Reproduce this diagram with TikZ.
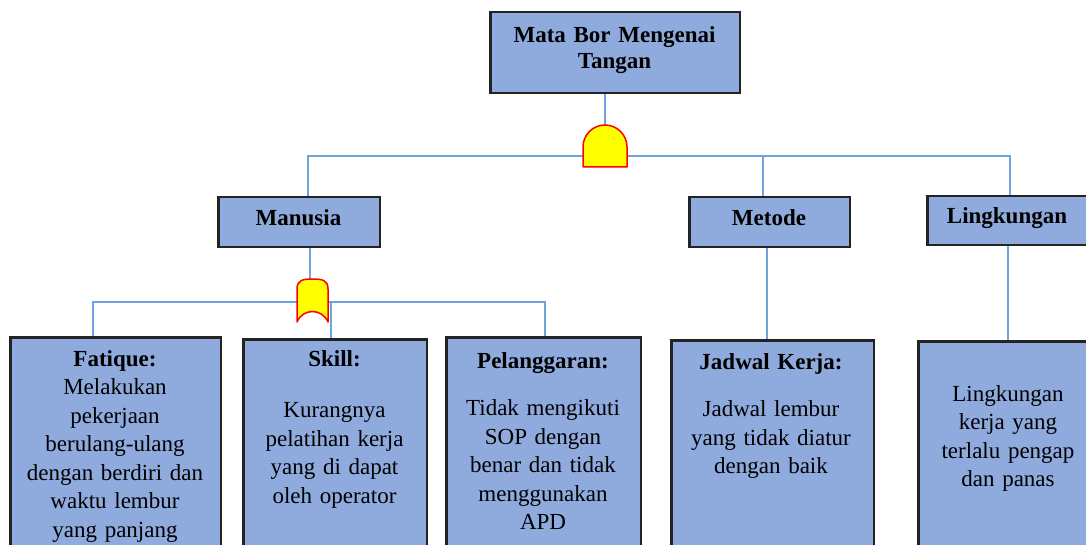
\documentclass[tikz,border=0pt]{standalone}
\usepackage{fontspec}
\setmainfont{Liberation Serif}
\definecolor{boxfill}{RGB}{143,170,220}
\definecolor{boxline}{RGB}{35,35,35}
\definecolor{wireblue}{RGB}{110,165,220}
\definecolor{gatered}{RGB}{255,0,0}
\definecolor{gateyellow}{RGB}{255,255,0}
\begin{document}
\begin{tikzpicture}[x=1pt,y=-1pt,
  box/.style={draw=boxline, line width=1.5pt, fill=boxfill, inner sep=0pt, anchor=north west},
  wire/.style={draw=wireblue, line width=1.4pt},
  gate/.style={draw=gatered, fill=gateyellow, line width=1.5pt, line join=round},
  head/.style={font=\bfseries\fontsize{23}{26}\selectfont, inner sep=0pt, anchor=base},
  toptext/.style={font=\bfseries\fontsize{23}{26}\selectfont, align=center, text width=260pt, inner sep=0pt, anchor=north},
  body/.style={font=\fontsize{23}{28.5}\selectfont, align=center, text width=230pt, inner sep=0pt, anchor=north},
]
\useasboundingbox (0,0) rectangle (1086,545);
\clip (0,0) rectangle (1086,545);

% junction points of the wiring
\coordinate (g1) at (605,146);     % top AND gate
\coordinate (bm) at (308,156);     % bus to Manusia
\coordinate (bt) at (763,156);     % bus to Metode
\coordinate (bl) at (1010,156);    % bus to Lingkungan
\coordinate (g2) at (310,300);     % OR gate under Manusia
\coordinate (cf) at (93,302);      % bus to Fatique
\coordinate (cs) at (331,302);     % bus to Skill
\coordinate (cp) at (545,302);     % bus to Pelanggaran
\coordinate (vm) at (767,0);       % drop Metode -> Jadwal Kerja
\coordinate (vl) at (1008,0);      % drop Lingkungan -> lower box

% boxes
\node[box, minimum width=249pt, minimum height=80pt] (top) at (490,12) {};
\node[box, minimum width=161pt, minimum height=49pt] (manusia) at (218,197) {};
\node[box, minimum width=160pt, minimum height=49pt] (metode) at (689,197) {};
\node[box, minimum width=162pt, minimum height=48pt] (lingk) at (927,196) {};
\node[box, minimum width=210pt, minimum height=230pt] (fatique) at (10,337) {};
\node[box, minimum width=183pt, minimum height=230pt] (skill) at (243,339) {};
\node[box, minimum width=194pt, minimum height=230pt] (pelang) at (446,337) {};
\node[box, minimum width=202pt, minimum height=230pt] (jadwal) at (671,340) {};
\node[box, minimum width=180pt, minimum height=230pt] (lingkb) at (918,341) {};

% wiring
\draw[wire] (g1 |- top.south) -- (g1);
\draw[wire] (bm |- manusia.north) -- (bm) -- (bl) -- (bl |- lingk.north);
\draw[wire] (bt) -- (bt |- metode.north);
\draw[wire] (g2 |- manusia.south) -- (g2);
\draw[wire] (cf |- fatique.north) -- (cf) -- (cp) -- (cp |- pelang.north);
\draw[wire] (cs) -- (cs |- skill.north);
\draw[wire] (vm |- metode.south) -- (vm |- jadwal.north);
\draw[wire] (vl |- lingk.south) -- (vl |- lingkb.north);

% redraw box outlines over the wire ends
\foreach \b in {top,manusia,metode,lingk,fatique,skill,pelang,jadwal,lingkb}
  \draw[boxline, line width=1.5pt] (\b.north west) rectangle (\b.south east);

% AND gate
\draw[gate] (583,167) -- (583,147)
  .. controls (583,134.85) and (592.85,125) .. (605,125)
  .. controls (617.15,125) and (627,134.85) .. (627,147)
  -- (627,167) -- cycle;

% OR gate
\draw[gate] (297,322) -- (297,289)
  .. controls (297,280) and (303,279) .. (312.5,279)
  .. controls (322,279) and (328,280) .. (328,289)
  -- (328,322)
  .. controls (322,308) and (303,308) .. (297,322) -- cycle;

% texts
\node[toptext] (ttop) at (614.5,23.8) {\strut Mata Bor Mengenai\\Tangan};
\node[head] (tman) at (298.5,226) {Manusia};
\node[head] (tmet) at (769,226) {Metode};
\node[head] (tlin) at (1007,224) {Lingkungan};
\node[body] (tfat) at (115,346) {\strut\textbf{Fatique:}\\Melakukan\\pekerjaan\\berulang-ulang\\dengan berdiri dan\\waktu lembur\\yang panjang};
\node[body] (tski) at (334.5,346) {\strut\textbf{Skill:}\\[23pt]Kurangnya\\pelatihan kerja\\yang di dapat\\oleh operator};
\node[body] (tpel) at (543,348) {\strut\textbf{Pelanggaran:}\\[19pt]Tidak mengikuti\\SOP dengan\\benar dan tidak\\menggunakan\\APD};
\node[body] (tjad) at (771,349) {\strut\textbf{Jadwal Kerja:}\\[19pt]Jadwal lembur\\yang tidak diatur\\dengan baik};
\node[body] (tlib) at (1008,381) {\strut Lingkungan\\kerja yang\\terlalu pengap\\dan panas};
\end{tikzpicture}
\end{document}
